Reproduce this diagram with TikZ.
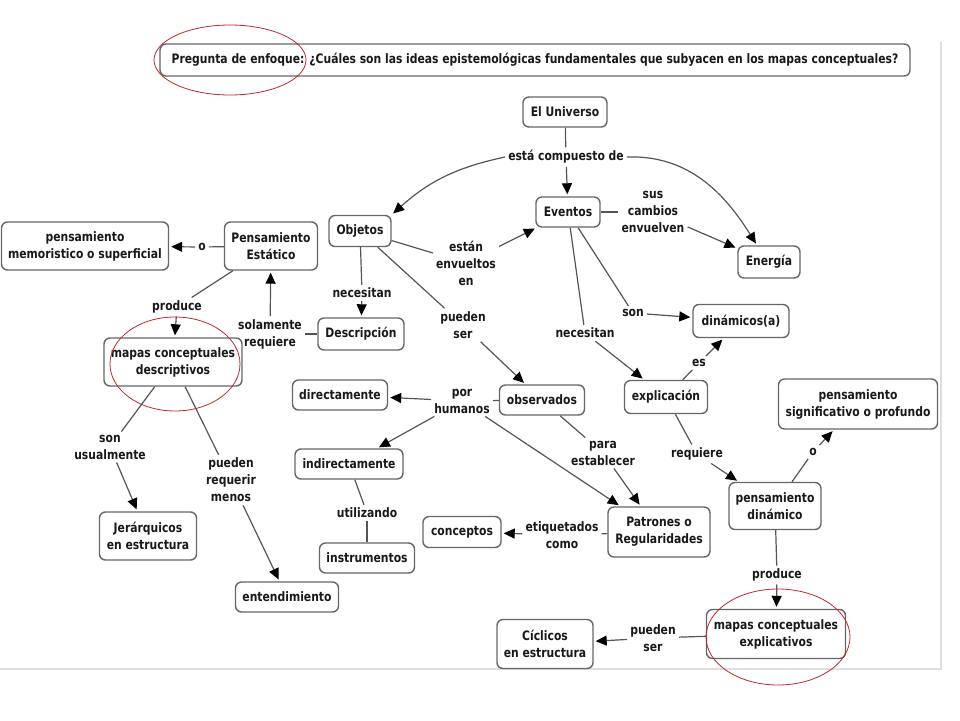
\documentclass[tikz,border=0pt]{standalone}
\usepackage{fontspec}
\setmainfont{DejaVu Sans}[FakeStretch=0.83]
\usetikzlibrary{arrows.meta}
\definecolor{boxgray}{HTML}{666666}
\definecolor{linegray}{HTML}{555555}
\definecolor{ovalred}{HTML}{C0282D}
\tikzset{
  txt/.style={font=\fontsize{13}{17}\selectfont\bfseries, text=black!90},
  concept/.style={txt, draw=boxgray, line width=1.4pt, rounded corners=6pt, fill=white,
    align=center, inner sep=2pt},
  linkph/.style={txt, align=center, inner sep=3pt},
  conn/.style={draw=linegray, line width=1.2pt},
  arr/.style={conn, -{Triangle[length=11pt,width=10pt,color=black]}, shorten >=2pt},
  oval/.style={draw=ovalred, line width=0.8pt},
  frameline/.style={draw=black!13, line width=1.4pt}
}
\begin{document}
\begin{tikzpicture}[x=1pt,y=-1pt]
\useasboundingbox (0,0) rectangle (960,720);
% frame lines
\draw[frameline] (941,42) -- (941,669) -- (0,669);

% question
\node[concept, minimum width=750pt, minimum height=32pt] (q) at (535,60)
  {Pregunta de enfoque: ¿Cuáles son las ideas epistemológicas fundamentales que subyacen en los mapas conceptuales?};

% concepts
\node[concept, minimum width=84pt, minimum height=30pt] (univ) at (565,112) {El Universo};
\node[concept, minimum width=62pt, minimum height=31pt] (obj) at (360,231) {Objetos};
\node[concept, minimum width=64pt, minimum height=30pt] (ev) at (568,212) {Eventos};
\node[concept, minimum width=62pt, minimum height=32pt] (en) at (769,262) {Energía};
\node[concept, minimum width=93pt, minimum height=48pt] (pe) at (271,246) {Pensamiento\\Estático};
\node[concept, minimum width=167pt, minimum height=48pt] (pm) at (85,246) {pensamiento\\memoristico o superficial};
\node[concept, minimum width=138pt, minimum height=48pt] (mcd) at (173,362) {mapas conceptuales\\descriptivos};
\node[concept, minimum width=86pt, minimum height=32pt] (desc) at (361,334) {Descripción};
\node[concept, minimum width=96pt, minimum height=33pt] (din) at (741,321) {dinámicos(a)};
\node[concept, minimum width=95pt, minimum height=30pt] (dir) at (340,395) {directamente};
\node[concept, minimum width=85pt, minimum height=30pt] (obs) at (542,400) {observados};
\node[concept, minimum width=83pt, minimum height=33pt] (expl) at (666,397) {explicación};
\node[concept, minimum width=159pt, minimum height=50pt] (ps) at (858,404) {pensamiento\\significativo o profundo};
\node[concept, minimum width=108pt, minimum height=30pt] (ind) at (349,464) {indirectamente};
\node[concept, minimum width=97pt, minimum height=48pt] (jer) at (148,536) {Jerárquicos\\en estructura};
\node[concept, minimum width=92pt, minimum height=47pt] (pd) at (775,506) {pensamiento\\dinámico};
\node[concept, minimum width=78pt, minimum height=31pt] (conc) at (462,532) {conceptos};
\node[concept, minimum width=102pt, minimum height=50pt] (pat) at (659,532) {Patrones o\\Regularidades};
\node[concept, minimum width=95pt, minimum height=30pt] (inst) at (367,558) {instrumentos};
\node[concept, minimum width=103pt, minimum height=30pt] (ent) at (287,597) {entendimiento};
\node[concept, minimum width=96pt, minimum height=49pt] (cic) at (545,644) {Cíclicos\\en estructura};
\node[concept, minimum width=139pt, minimum height=49pt] (mce) at (776,634) {mapas conceptuales\\explicativos};

% linking phrases
\node[linkph] (ecd) at (566,157) {está compuesto de};
\node[linkph] (sce) at (653,212) {sus\\cambios\\envuelven};
\node[linkph] (o1) at (202,247) {o};
\node[linkph] (prod1) at (177,307) {produce};
\node[linkph] (solreq) at (270,334) {solamente\\requiere};
\node[linkph] (nec1) at (362,293) {necesitan};
\node[linkph] (eee) at (466,263) {están\\envueltos\\en};
\node[linkph] (ps1) at (463,325) {pueden\\ser};
\node[linkph] (son1) at (633,313) {son};
\node[linkph] (nec2) at (585,333) {necesitan};
\node[linkph] (es) at (699,363) {es};
\node[linkph] (porh) at (462,401) {por\\humanos};
\node[linkph] (pest) at (603,453) {para\\establecer};
\node[linkph] (req) at (697,454) {requiere};
\node[linkph] (o2) at (813,452) {o};
\node[linkph] (prod2) at (777,575) {produce};
\node[linkph] (ps2) at (653,638) {pueden\\ser};
\node[linkph] (etq) at (562,535) {etiquetados\\como};
\node[linkph] (util) at (367,513) {utilizando};
\node[linkph] (sonu) at (110,447) {son\\usualmente};
\node[linkph] (prm) at (231,480) {pueden\\requerir\\menos};

% connectors
\draw[conn] (univ) -- (ecd);
\draw[arr] (ecd) -- (ev);
\draw[arr] (ecd.west) to[out=192,in=42] (obj.north east);
\draw[arr] (ecd.east) to[out=2,in=122] ([xshift=-12pt]en.north);

\draw[conn] (ev.east) -- (sce.west |- ev.east);
\draw[arr] (sce) -- (en);

\draw[conn] (obj) -- (eee);
\draw[arr] (eee) -- (ev);

\draw[conn] (obj) -- (nec1);
\draw[arr] (nec1) -- (desc);

\draw[conn] (obj) -- (ps1);
\draw[arr] (ps1) -- (obs);

\draw[conn] (desc) -- (solreq);
\draw[arr] (solreq) -- (pe);

\draw[conn] (pe) -- (o1);
\draw[arr] (o1) -- (pm);

\draw[conn] (pe) -- (prod1);
\draw[arr] (prod1) -- (mcd);

\draw[conn] (mcd) -- (sonu);
\draw[arr] (sonu) -- (jer);

\draw[conn] (mcd) -- (prm);
\draw[arr] (prm) -- (ent);

\draw[conn] (obs) -- (porh);
\draw[arr] (porh) -- (dir);
\draw[arr] (porh) -- (ind);
\draw[arr] (porh) -- (pat);

\draw[conn] (obs) -- (pest);
\draw[arr] (pest) -- (pat);

\draw[conn] (ind) -- (util);
\draw[conn] (util) -- (inst);

\draw[conn] (pat) -- (etq);
\draw[arr] (etq) -- (conc);

\draw[conn] (ev) -- (son1);
\draw[arr] (son1) -- (din);

\draw[conn] (ev) -- (nec2);
\draw[arr] (nec2) -- (expl);

\draw[conn] (expl) -- (es);
\draw[arr] (es) -- (din);

\draw[conn] (expl) -- (req);
\draw[arr] (req) -- (pd);

\draw[conn] (pd) -- (o2);
\draw[arr] (o2) -- (ps);

\draw[conn] (pd) -- (prod2);
\draw[arr] (prod2) -- (mce);

\draw[conn] (mce) -- (ps2);
\draw[arr] (ps2) -- (cic);

% red ovals
\draw[oval] (230,60) ellipse [x radius=76pt, y radius=35pt];
\draw[oval] (175,364) ellipse [x radius=65pt, y radius=47pt];
\draw[oval] (778,637) ellipse [x radius=72pt, y radius=48pt];
\end{tikzpicture}
\end{document}
